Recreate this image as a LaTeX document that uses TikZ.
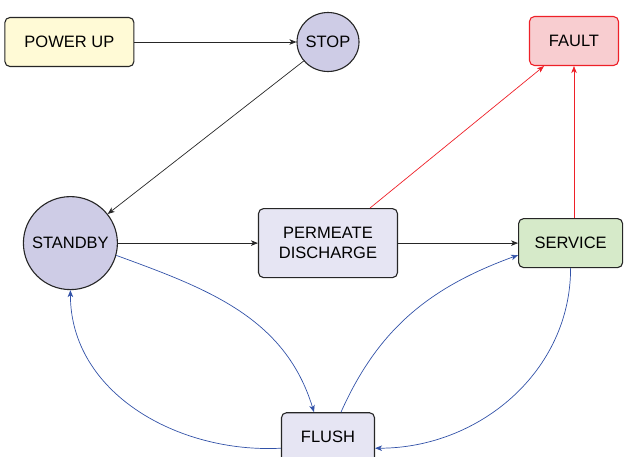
\documentclass[tikz,border=0pt]{standalone}
\usepackage{fontspec}
\setmainfont{Liberation Sans}
\usetikzlibrary{positioning,shapes.geometric,arrows.meta}

\definecolor{powerfill}{RGB}{255,250,214}
\definecolor{roundfill}{RGB}{206,204,230}
\definecolor{palefill}{RGB}{230,229,243}
\definecolor{servicefill}{RGB}{214,234,201}
\definecolor{faultfill}{RGB}{248,205,208}
\definecolor{faultred}{RGB}{238,32,40}
\definecolor{loopblue}{RGB}{50,82,168}

\begin{document}
\begin{tikzpicture}[x=1pt,y=1pt,>={Stealth[length=7pt,width=5.5pt,inset=2pt]},
    font=\fontsize{16.5}{18.5}\selectfont,
    statebox/.style={draw=black!85,line width=1.1pt,rounded corners=5pt,minimum height=49pt,inner sep=2pt,align=center},
    roundstate/.style={ellipse,draw=black!85,line width=1.1pt,fill=roundfill,inner sep=-9pt},
    link/.style={->,line width=0.7pt,black!85},
    faultlink/.style={->,line width=0.7pt,faultred},
    looplink/.style={->,line width=0.7pt,loopblue}]
    \useasboundingbox (0,0) rectangle (624,-456);
            \node[roundstate,minimum width=62pt,minimum height=59pt] (stop) at (328,-42) {STOP};
            \node[statebox,fill=powerfill,minimum width=129pt,left=162pt of stop] (power) {POWER UP};
            \node[statebox,fill=palefill,minimum width=139pt,minimum height=69pt,below=136pt of stop] (permeate) {PERMEATE\\[1.5pt]DISCHARGE};
            \node[roundstate,minimum width=94pt,minimum height=93pt,left=140pt of permeate] (standby) {STANDBY};
            \node[statebox,fill=servicefill,minimum width=104pt,right=120pt of permeate] (service) {SERVICE};
            \node[statebox,fill=faultfill,draw=faultred,minimum width=89pt] (fault) at (574,-41) {FAULT};
            \node[statebox,fill=palefill,minimum width=93pt,below=134pt of permeate] (flush) {FLUSH};
            \draw[link] (power) -- (stop);
            \draw[link] (stop) -- (standby);
            \draw[link] (standby) -- (permeate);
            \draw[link] (permeate) -- (service);
            \draw[faultlink] ([xshift=42pt]permeate.north) -- ([xshift=-30pt]fault.south);
            \draw[faultlink] (service.north -| fault.south) -- (fault.south);
            \draw[looplink] (standby.-15) to[out=-20,in=107] ([xshift=-14pt]flush.north);
            \draw[looplink] ([xshift=13pt]flush.north) to[out=66,in=200] ([yshift=-12pt]service.west);
            \draw[looplink] (service.south) to[out=-90,in=0] ([yshift=-11pt]flush.east);
            \draw[looplink] ([yshift=-11pt]flush.west) to[out=183,in=-90] (standby.south);
        \end{tikzpicture}
\end{document}
